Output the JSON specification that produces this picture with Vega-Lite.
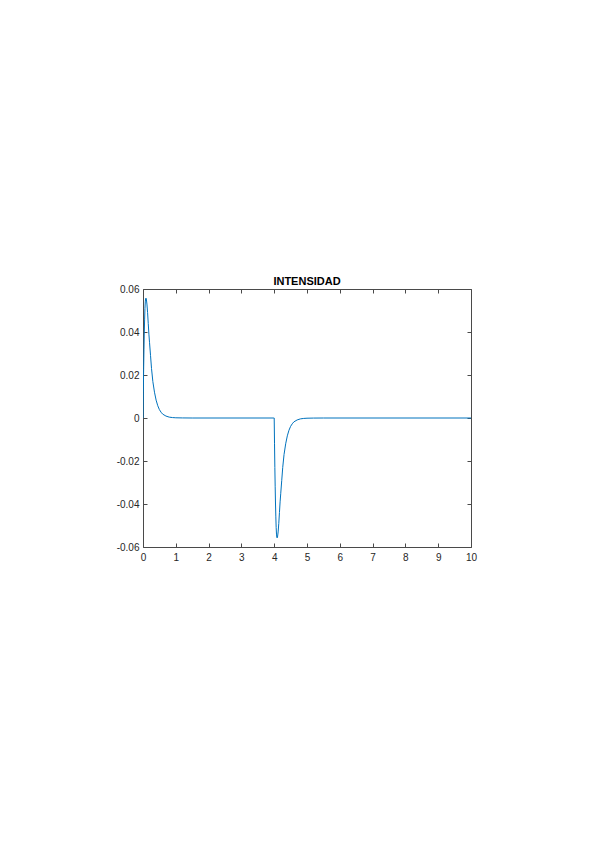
{
  "$schema": "https://vega.github.io/schema/vega-lite/v6.json",
  "autosize": {"type": "none"},
  "width": 328,
  "height": 258,
  "padding": {"left": 143, "top": 289, "right": 128, "bottom": 301},
  "background": "white",
  "config": {
    "view": {"stroke": null},
    "font": "Liberation Sans",
    "axis": {
      "grid": false,
      "domainColor": "#4a4a4a",
      "tickColor": "#4a4a4a",
      "labelColor": "#262626",
      "labelFont": "Liberation Sans",
      "labelFontSize": 10,
      "tickSize": -4,
      "domainWidth": 1,
      "tickWidth": 1,
      "title": null
    }
  },
  "title": {"text": "INTENSIDAD", "fontSize": 11, "fontWeight": "bold", "font": "Liberation Sans", "color": "#000000", "offset": -3, "anchor": "middle"},
  "data": {"values": [
    {"t": 0, "v": 0},
    {"t": 0.01, "v": 0.012},
    {"t": 0.02, "v": 0.023},
    {"t": 0.03, "v": 0.032},
    {"t": 0.04, "v": 0.040},
    {"t": 0.05, "v": 0.046},
    {"t": 0.06, "v": 0.051},
    {"t": 0.07, "v": 0.054},
    {"t": 0.08, "v": 0.0555},
    {"t": 0.09, "v": 0.0558},
    {"t": 0.10, "v": 0.0555},
    {"t": 0.12, "v": 0.053},
    {"t": 0.14, "v": 0.049},
    {"t": 0.16, "v": 0.044},
    {"t": 0.18, "v": 0.039},
    {"t": 0.20, "v": 0.035},
    {"t": 0.23, "v": 0.029},
    {"t": 0.26, "v": 0.023},
    {"t": 0.30, "v": 0.017},
    {"t": 0.35, "v": 0.012},
    {"t": 0.40, "v": 0.0083},
    {"t": 0.45, "v": 0.0057},
    {"t": 0.50, "v": 0.0039},
    {"t": 0.55, "v": 0.0027},
    {"t": 0.60, "v": 0.0018},
    {"t": 0.70, "v": 0.0009},
    {"t": 0.80, "v": 0.0004},
    {"t": 0.90, "v": 0.0002},
    {"t": 1.00, "v": 0.0001},
    {"t": 1.20, "v": 0.00003},
    {"t": 1.50, "v": 0},
    {"t": 3.99, "v": 0},
    {"t": 4.00, "v": 0},
    {"t": 4.01, "v": -0.012},
    {"t": 4.02, "v": -0.023},
    {"t": 4.03, "v": -0.032},
    {"t": 4.04, "v": -0.040},
    {"t": 4.05, "v": -0.046},
    {"t": 4.06, "v": -0.051},
    {"t": 4.07, "v": -0.054},
    {"t": 4.08, "v": -0.0555},
    {"t": 4.09, "v": -0.0558},
    {"t": 4.10, "v": -0.0555},
    {"t": 4.12, "v": -0.053},
    {"t": 4.14, "v": -0.049},
    {"t": 4.16, "v": -0.044},
    {"t": 4.18, "v": -0.039},
    {"t": 4.20, "v": -0.035},
    {"t": 4.23, "v": -0.029},
    {"t": 4.26, "v": -0.023},
    {"t": 4.30, "v": -0.017},
    {"t": 4.35, "v": -0.012},
    {"t": 4.40, "v": -0.0083},
    {"t": 4.45, "v": -0.0057},
    {"t": 4.50, "v": -0.0039},
    {"t": 4.55, "v": -0.0027},
    {"t": 4.60, "v": -0.0018},
    {"t": 4.70, "v": -0.0009},
    {"t": 4.80, "v": -0.0004},
    {"t": 4.90, "v": -0.0002},
    {"t": 5.00, "v": -0.0001},
    {"t": 5.20, "v": -0.00003},
    {"t": 5.50, "v": 0},
    {"t": 10, "v": 0}
  ]},
  "layer": [
    {
      "mark": {"type": "line", "color": "#0072BD", "strokeWidth": 1, "clip": true},
      "encoding": {
        "x": {"field": "t", "type": "quantitative", "scale": {"domain": [0, 10], "nice": false, "zero": false},
              "axis": {"orient": "bottom", "values": [0,1,2,3,4,5,6,7,8,9,10], "labelPadding": 9, "labelFlush": false}},
        "y": {"field": "v", "type": "quantitative", "scale": {"domain": [-0.06, 0.06], "nice": false, "zero": false},
              "axis": {"orient": "left", "values": [-0.06,-0.04,-0.02,0,0.02,0.04,0.06], "labelPadding": 8, "labelFlush": false,
                       "labelExpr": "datum.value == 0 ? '0' : replace(format(datum.value, '.2f'), '\u2212', '-')"}}
      }
    },
    {
      "mark": {"type": "line", "opacity": 0},
      "encoding": {
        "x": {"field": "t", "type": "quantitative", "scale": {"domain": [0, 10], "nice": false, "zero": false},
              "axis": {"orient": "top", "values": [0,1,2,3,4,5,6,7,8,9,10], "labels": false}},
        "y": {"field": "v", "type": "quantitative", "scale": {"domain": [-0.06, 0.06], "nice": false, "zero": false},
              "axis": {"orient": "right", "values": [-0.06,-0.04,-0.02,0,0.02,0.04,0.06], "labels": false}}
      }
    }
  ],
  "resolve": {"axis": {"x": "independent", "y": "independent"}}
}
